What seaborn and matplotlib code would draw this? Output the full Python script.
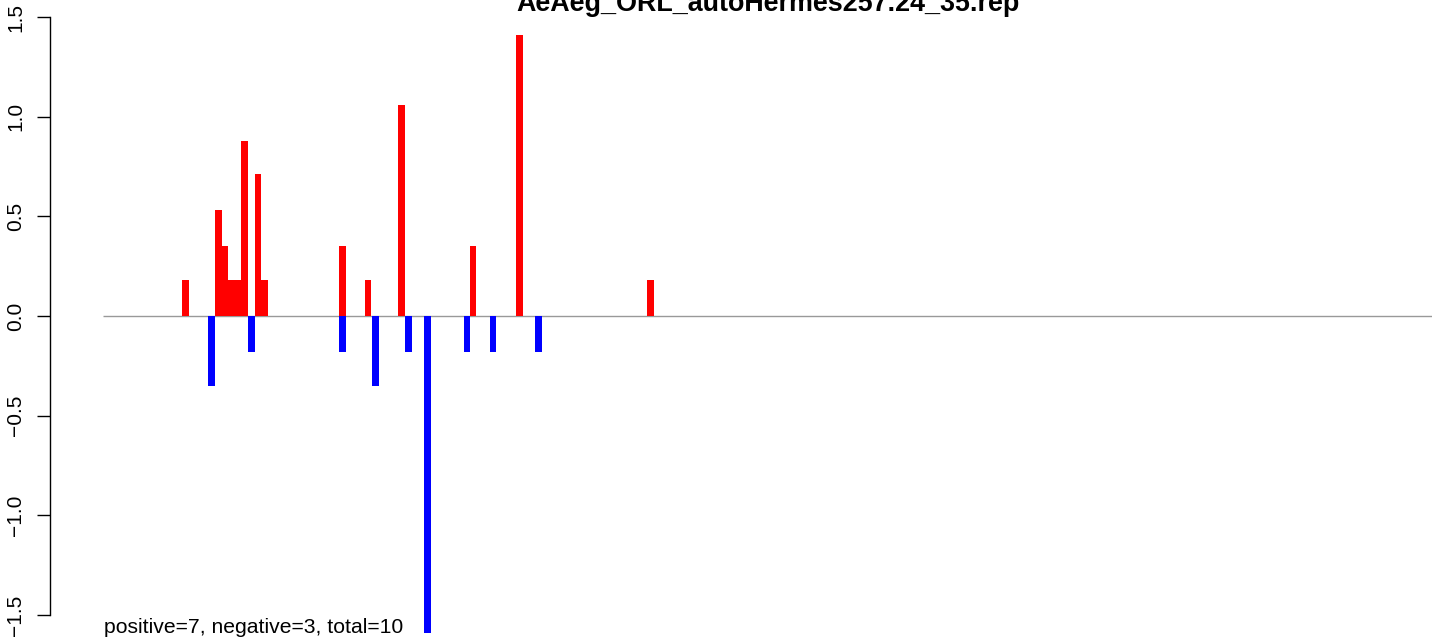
import numpy as np
import pandas as pd
import matplotlib
matplotlib.use("Agg")
import matplotlib.pyplot as plt
import seaborn as sns

# ---- data ----
title = "AeAeg_ORL_autoHermes257.24_35.rep"
footer = "positive=7, negative=3, total=10"

pos_x = [12.4, 17.35, 18.35, 19.3, 20.3, 21.3, 23.3, 24.3, 36.0, 39.9, 44.9, 55.7, 62.7, 82.4]
pos_y = [0.18, 0.53, 0.35, 0.18, 0.18, 0.88, 0.71, 0.18, 0.35, 0.18, 1.06, 0.35, 1.41, 0.18]

neg_x = [16.3, 22.3, 36.0, 41.0, 45.95, 48.8, 54.8, 58.7, 65.5]
neg_y = [-0.35, -0.18, -0.18, -0.35, -0.18, -1.59, -0.18, -0.18, -0.18]

x_range = [0, 200]
y_ticks = [-1.5, -1.0, -0.5, 0.0, 0.5, 1.0, 1.5]

# ---- build table ----
df = pd.DataFrame({
    "pos": pos_x + neg_x,
    "value": pos_y + neg_y,
    "sign": ["pos"] * len(pos_x) + ["neg"] * len(neg_x),
})

sns.set_theme(style="white")
plt.rcParams["font.family"] = ["Liberation Sans", "DejaVu Sans"]
plt.rcParams["axes.unicode_minus"] = True
plt.rcParams["text.color"] = "black"
plt.rcParams["ytick.color"] = "black"
plt.rcParams["ytick.labelcolor"] = "black"

W, H = 1441, 639
fig = plt.figure(figsize=(W / 100, H / 100), dpi=100)
ax_left, ax_right = 50, 1432
ax_top, ax_bottom = 0, 633
ax = fig.add_axes([ax_left / W, 1 - ax_bottom / H, (ax_right - ax_left) / W, (ax_bottom - ax_top) / H])

# bar width of 1 data unit
native = np.diff(np.unique(df["pos"].values)).min()
bar_w = 1.0 / native

sns.barplot(data=df, x="pos", y="value", hue="sign",
            palette={"pos": "#FF0000", "neg": "#0000FF"},
            native_scale=True, width=bar_w, dodge=False,
            errorbar=None, saturation=1, linewidth=0,
            legend=False, ax=ax, zorder=3)

ax.hlines(0, x_range[0], x_range[1], color="#999999", lw=1.0, zorder=2)

# axis geometry: data 0 -> px 103, 200 -> px 1432
px_per_unit = (1432 - 103) / (x_range[1] - x_range[0])
ax.set_xlim(x_range[0] - (103 - ax_left) / px_per_unit, x_range[1])
ypx = 199.3
ax.set_ylim(-(ax_bottom - 316) / ypx, (316 - ax_top) / ypx)

for s in ["top", "right", "bottom"]:
    ax.spines[s].set_visible(False)
ax.spines["left"].set_bounds(-1.5, 1.5)
ax.spines["left"].set_color("black")
ax.spines["left"].set_linewidth(1.0)

ax.set_xticks([])
ax.set_xlabel("")
ax.set_ylabel("")
ax.set_yticks(y_ticks)
ax.set_yticklabels([f"{t:.1f}".replace("-", "\u2212") for t in y_ticks],
                   rotation=90, va="center", fontsize=15, color="black")
ax.tick_params(axis="y", left=True, length=9.4, width=1.0, pad=8.5, color="black", labelcolor="black")
ax.patch.set_alpha(0)

fig.text(768 / W, 1 - 11 / H, title, ha="center", va="baseline",
         fontsize=19.4, fontweight="bold", color="black")
fig.text(104 / W, 1 - 633 / H, footer, ha="left", va="baseline", fontsize=15.2, color="black")

fig.savefig("out.png", dpi=100, facecolor="white")
